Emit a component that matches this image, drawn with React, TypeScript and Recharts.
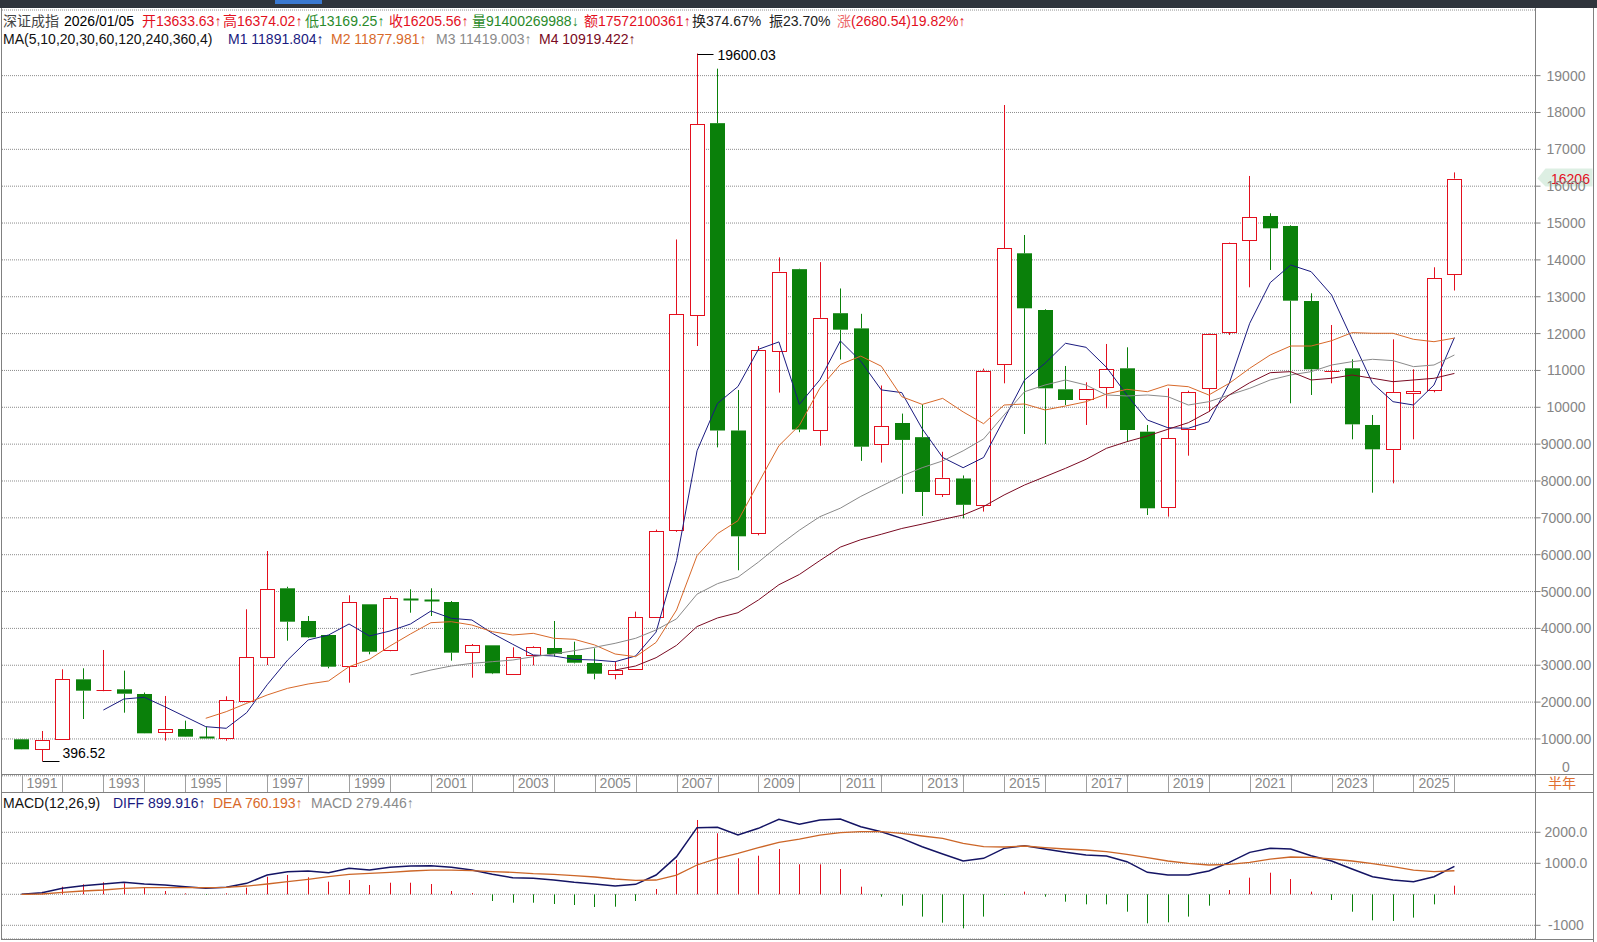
import React from 'react';
import { ComposedChart, Bar, Line, XAxis, YAxis, CartesianGrid, ReferenceLine } from 'recharts';

const FONT = "'Liberation Sans', Arial, 'Noto Sans CJK SC', sans-serif";
const RED = '#e3101e';
const GREEN = '#0a800a';
const NAVY = '#1a1a80';
const ORANGE = '#d8692a';
const GRAY = '#8a8a8a';
const MAROON = '#7a0a22';

// 半年K线 1991H1 .. 2026H1
const halfYears = Array.from({ length: 71 }, (_, i) => `${1991 + Math.floor(i / 2)}H${(i % 2) + 1}`);

const open = [990, 719, 990, 2618, 2300, 2347, 2220, 1180, 1270, 1045, 1008, 2012, 3215, 5088, 4201, 3821, 2980, 4654, 3395, 4785, 4770, 4716, 3351, 3541, 2754, 3270, 3468, 3278, 3061, 2771, 2890, 4318, 6650, 12491, 17710, 9370, 6573, 11547, 13748, 9397, 12553, 12141, 8985, 9574, 9189, 7666, 8068, 7354, 11167, 14179, 12640, 10488, 10217, 10543, 11058, 9338, 7286, 9411, 10516, 12025, 14540, 15191, 14920, 12884, 10980, 11058, 9520, 8860, 10378, 10470, 13633.63];
const high = [995, 1216, 2890, 2917, 3414, 2853, 2260, 2166, 1496, 1333, 2157, 4518, 6100, 5130, 4336, 3821, 4898, 4654, 4879, 5061, 5088, 4743, 3576, 3541, 3487, 3514, 4201, 3639, 3460, 3097, 4455, 6680, 14554, 19600.03, 19189, 10469, 11663, 14068, 13760, 13940, 13224, 12537, 10592, 9829, 10079, 8792, 8150, 11050, 18203, 14675, 12660, 11121, 10678, 11718, 11628, 9520, 10516, 10450, 12000, 14470, 16277, 15264, 14940, 13093, 12233, 11302, 9791, 11845, 11031, 13799, 16374.02];
const low = [715, 396.52, 985, 1541, 2295, 1713, 1150, 953, 1055, 1005, 953, 2000, 3007, 3666, 3740, 2917, 2527, 3297, 3380, 4426, 4336, 3124, 2662, 2760, 2740, 2999, 3240, 3050, 2618, 2618, 2880, 4300, 6619, 11663, 8912, 5577, 6526, 10399, 9324, 8958, 11297, 8546, 8499, 7655, 7050, 7566, 6985, 7170, 10651, 9275, 9004, 10062, 9520, 9973, 9067, 7077, 7032, 8687, 9881, 11962, 13256, 13726, 10108, 10334, 10651, 9131, 7683, 7937, 9131, 10407, 13169.25];
const close = [719, 972, 2618, 2310, 2320, 2228, 1153, 1262, 1062, 1008, 2049, 3215, 5061, 4182, 3758, 2961, 4708, 3368, 4817, 4765, 4750, 3341, 3541, 2781, 3215, 3487, 3305, 3069, 2771, 2871, 4301, 6643, 12518, 17675, 9370, 6499, 11547, 13683, 9397, 12426, 12106, 8931, 9482, 9115, 7702, 8087, 7354, 10996, 14314, 12686, 10515, 10198, 10497, 11031, 9384, 7259, 9159, 10407, 11981, 14450, 15156, 14857, 12893, 11031, 10994, 9538, 8860, 10407, 10442, 13500, 16205.56];

// 均线 M1..M4
const m1 = [null, null, null, null, 1785, 2084, 2130, 1875, 1604, 1333, 1289, 1713, 2470, 3140, 3685, 3821, 4119, 3794, 3929, 4119, 4472, 4273, 4228, 3866, 3568, 3278, 3251, 3160, 3142, 3097, 3251, 3900, 5840, 8819, 10106, 10564, 11574, 11774, 10079, 10746, 11802, 11251, 10472, 10399, 9417, 8638, 8361, 8638, 9680, 10741, 11194, 11737, 11628, 11085, 10334, 9655, 9446, 9430, 9609, 10651, 12280, 13382, 13862, 13680, 13048, 11845, 10651, 10152, 10062, 10605, 11892];
const m2 = [null, null, null, null, null, null, null, null, null, 1560, 1740, 1967, 2193, 2374, 2491, 2573, 2961, 3160, 3522, 3848, 4155, 4182, 4092, 3910, 3821, 3866, 3731, 3704, 3550, 3305, 3232, 3620, 4500, 5976, 6573, 6922, 7948, 8958, 9509, 10518, 11161, 11389, 11115, 10288, 10079, 10242, 9875, 9555, 10062, 10090, 9927, 10035, 10152, 10361, 10488, 10423, 10605, 10559, 10334, 10651, 11058, 11419, 11663, 11663, 11807, 12025, 12008, 12008, 11845, 11780, 11878];
const m3 = [null, null, null, null, null, null, null, null, null, null, null, null, null, null, null, null, null, null, null, 2735, 2871, 2980, 3052, 3097, 3142, 3232, 3305, 3395, 3487, 3595, 3731, 3957, 4260, 4930, 5214, 5391, 5800, 6252, 6665, 7031, 7262, 7582, 7858, 8133, 8361, 8545, 8819, 9142, 9791, 10423, 10605, 10741, 10605, 10334, 10307, 10334, 10288, 10062, 10152, 10334, 10515, 10741, 10877, 10967, 11148, 11238, 11302, 11266, 11103, 11148, 11419];
const m4 = [null, null, null, null, null, null, null, null, null, null, null, null, null, null, null, null, null, null, null, null, null, null, null, null, null, null, null, null, null, 2871, 2980, 3205, 3540, 4050, 4283, 4425, 4771, 5185, 5463, 5840, 6206, 6407, 6554, 6711, 6830, 6958, 7077, 7308, 7620, 7891, 8117, 8344, 8588, 8887, 9067, 9221, 9403, 9582, 9881, 10334, 10668, 10939, 10967, 10741, 10787, 10877, 10787, 10695, 10741, 10787, 10919];

// MACD(12,26,9)
const diff = [0, 52, 192, 278, 332, 386, 332, 300, 246, 192, 224, 353, 622, 730, 751, 697, 837, 783, 869, 912, 923, 869, 783, 644, 536, 515, 461, 386, 332, 267, 321, 622, 1214, 2149, 2160, 1912, 2128, 2418, 2262, 2396, 2429, 2181, 2020, 1805, 1536, 1300, 1074, 1160, 1482, 1568, 1461, 1353, 1267, 1235, 1052, 708, 622, 622, 751, 1031, 1353, 1482, 1461, 1246, 1074, 816, 568, 461, 407, 568, 900];
const dea = [0, 9, 63, 106, 138, 192, 213, 213, 213, 213, 224, 267, 332, 407, 482, 568, 644, 676, 708, 751, 783, 783, 762, 730, 708, 665, 644, 600, 558, 493, 450, 461, 622, 945, 1160, 1321, 1504, 1676, 1783, 1912, 1988, 2020, 2020, 1966, 1880, 1805, 1644, 1536, 1525, 1558, 1504, 1461, 1429, 1375, 1289, 1181, 1074, 998, 945, 966, 1031, 1138, 1203, 1192, 1138, 1074, 988, 891, 783, 730, 760];
const hist = [0, 80, 245, 322, 387, 355, 213, 106, 30, -23, 32, 213, 568, 623, 548, 406, 461, 300, 374, 374, 332, 106, 40, -216, -271, -271, -313, -345, -410, -400, -216, 171, 1106, 2397, 1968, 1161, 1245, 1461, 968, 966, 816, 246, -77, -367, -720, -916, -1098, -720, -23, 85, -77, -238, -324, -324, -561, -937, -905, -720, -367, 138, 536, 697, 493, 85, -184, -561, -840, -860, -752, -324, 279];

const priceTicks = [0, 1000, 2000, 3000, 4000, 5000, 6000, 7000, 8000, 9000, 10000, 11000, 12000, 13000, 14000, 15000, 16000, 17000, 18000, 19000];
const macdTicks = [-1000, 0, 1000, 2000];
const yearTicks = halfYears.map((_, i) => i).filter((i) => i % 2 === 0);

const rows = halfYears.map((p, i) => ({
  i,
  period: p,
  open: open[i],
  high: high[i],
  low: low[i],
  close: close[i],
  range: [low[i], high[i]],
  m1: m1[i],
  m2: m2[i],
  m3: m3[i],
  m4: m4[i],
}));
const macdRows = halfYears.map((p, i) => ({ i, period: p, diff: diff[i], dea: dea[i], hist: hist[i] }));

const maxHigh = Math.max(...high);
const minLow = Math.min(...low);
const lastClose = close[close.length - 1];
const X_DOMAIN = [-0.953, 73.96];

function Candle(props: any) {
  const { x, y, width, height, payload } = props;
  if (x == null || !payload) return null;
  const cx = Math.round(x + width / 2) + 0.5;
  const top = Math.min(y, y + height);
  const h = Math.abs(height);
  const span = payload.high - payload.low;
  const py = (v: number) => (span > 0 ? top + ((payload.high - v) / span) * h : top);
  const up = payload.close >= payload.open;
  const color = up ? RED : GREEN;
  const bTop = py(Math.max(payload.open, payload.close));
  const bBot = py(Math.min(payload.open, payload.close));
  const yHi = py(payload.high);
  const yLo = py(payload.low);
  const flat = bBot - bTop < 1.5;
  return (
    <g>
      <line x1={cx} x2={cx} y1={yHi} y2={bTop} stroke={color} />
      <line x1={cx} x2={cx} y1={bBot} y2={yLo} stroke={color} />
      {flat ? (
        <line x1={cx - 7} x2={cx + 8} y1={Math.round(bTop) + 0.5} y2={Math.round(bTop) + 0.5} stroke={color} strokeWidth={up ? 1 : 2} />
      ) : up ? (
        <rect x={cx - 7} y={Math.round(bTop) + 0.5} width={14} height={Math.round(bBot - bTop)} fill="#fff" stroke={color} />
      ) : (
        <rect x={cx - 7.5} y={bTop} width={15} height={bBot - bTop} fill={color} />
      )}
      {payload.high === maxHigh ? (
        <g>
          <line x1={cx} x2={cx + 16} y1={Math.round(yHi) + 0.5} y2={Math.round(yHi) + 0.5} stroke="#000" />
          <text x={cx + 20} y={yHi + 6} fontSize={14} fill="#000" fontFamily={FONT}>{payload.high.toFixed(2)}</text>
        </g>
      ) : null}
      {payload.low === minLow ? (
        <g>
          <line x1={cx} x2={cx + 17} y1={Math.round(yLo) + 0.5} y2={Math.round(yLo) + 0.5} stroke="#000" />
          <text x={cx + 20} y={yLo - 3} fontSize={14} fill="#000" fontFamily={FONT}>{payload.low.toFixed(2)}</text>
        </g>
      ) : null}
    </g>
  );
}

function HistBar(props: any) {
  const { x, y, width, height, payload } = props;
  if (x == null || !payload || !payload.hist) return null;
  const cx = Math.round(x + width / 2) + 0.5;
  const y1 = Math.min(y, y + height);
  const y2 = Math.max(y, y + height);
  return <line x1={cx} x2={cx} y1={y1} y2={y2} stroke={payload.hist > 0 ? RED : GREEN} strokeWidth={1} />;
}

function YearTick(props: any) {
  const { x, y, payload } = props;
  const year = 1991 + payload.value / 2;
  const lx = Math.round(x) + 0.5;
  return (
    <g>
      <line x1={lx} x2={lx} y1={y - 1.5} y2={y + 16.5} stroke="#a0a0a0" />
      {(year - 1991) % 2 === 0 && year < 2026 ? (
        <text x={x + 20.5} y={y + 7.5} textAnchor="middle" dominantBaseline="central" fill="#8a8a8a" fontSize={14} fontFamily={FONT}>
          {year}
        </text>
      ) : null}
    </g>
  );
}

function PriceTick(props: any) {
  const { x, y, payload } = props;
  const v = payload.value;
  const label = v === 0 ? '0' : v >= 10000 ? String(v) : v.toFixed(2);
  return (
    <g>
      {v !== 0 ? <line x1={x} x2={x + 5} y1={y} y2={y} stroke="#808080" /> : null}
      <text x={x + 30.5} y={v === 0 ? y - 9 : y} textAnchor="middle" dominantBaseline="central" fill="#858585" fontSize={14} fontFamily={FONT}>
        {label}
      </text>
    </g>
  );
}

function MacdTick(props: any) {
  const { x, y, payload } = props;
  const v = payload.value;
  if (v === 0) return null;
  const label = v > 0 ? v.toFixed(1) : String(v);
  return (
    <g>
      <line x1={x} x2={x + 5} y1={y} y2={y} stroke="#808080" />
      <text x={x + 30.5} y={y} textAnchor="middle" dominantBaseline="central" fill="#858585" fontSize={14} fontFamily={FONT}>
        {label}
      </text>
    </g>
  );
}

// last-close tag on the price axis, drawn over the 16000 label as in the terminal
function PriceTag(props: any) {
  const vb = props.viewBox;
  if (!vb) return null;
  const x0 = vb.x + vb.width;
  const yc = vb.y;
  return (
    <g>
      <polygon
        points={`${x0 + 2},${yc} ${x0 + 10},${yc - 10} ${x0 + 57},${yc - 10} ${x0 + 57},${yc + 8} ${x0 + 10},${yc + 8}`}
        fill="#ddefe3"
      />
      <text x={x0 + 15.5} y={yc} dominantBaseline="central" fill={RED} fontSize={14} fontFamily={FONT}>
        {lastClose.toFixed(0)}
      </text>
    </g>
  );
}

const header1 = [
  { x: 3, text: '深证成指', color: '#444' },
  { x: 64, text: '2026/01/05', color: '#000' },
  { x: 142, text: '开13633.63↑', color: RED },
  { x: 223, text: '高16374.02↑', color: RED },
  { x: 305, text: '低13169.25↑', color: '#2a8a2a' },
  { x: 389, text: '收16205.56↑', color: RED },
  { x: 472, text: '量91400269988↓', color: '#2a8a2a' },
  { x: 584, text: '额17572100361↑', color: RED },
  { x: 692, text: '换374.67%', color: '#222' },
  { x: 769, text: '振23.70%', color: '#222' },
  { x: 837, text: '涨', color: '#ec6a6a' },
  { x: 851, text: '(2680.54)19.82%↑', color: RED },
];
const header2 = [
  { x: 3, text: 'MA(5,10,20,30,60,120,240,360,4)', color: '#111' },
  { x: 228, text: 'M1 11891.804↑', color: NAVY },
  { x: 331, text: 'M2 11877.981↑', color: ORANGE },
  { x: 436, text: 'M3 11419.003↑', color: GRAY },
  { x: 539, text: 'M4 10919.422↑', color: MAROON },
];
const macdTitle = [
  { x: 3, text: 'MACD(12,26,9)', color: '#111' },
  { x: 113, text: 'DIFF 899.916↑', color: NAVY },
  { x: 213, text: 'DEA 760.193↑', color: ORANGE },
  { x: 311, text: 'MACD 279.446↑', color: GRAY },
];

function TextRow({ items, cy }: { items: { x: number; text: string; color: string }[]; cy: number }) {
  return (
    <>
      {items.map((s) => (
        <div
          key={s.x + s.text}
          style={{ position: 'absolute', left: s.x, top: cy - 8, height: 16, lineHeight: '16px', fontSize: 14, color: s.color, whiteSpace: 'pre', fontFamily: FONT }}
        >
          {s.text}
        </div>
      ))}
    </>
  );
}

export default function App() {
  return (
    <div style={{ position: 'absolute', left: 0, top: 0, width: 1597, height: 942, background: '#fff', overflow: 'hidden', fontFamily: FONT }}>
      <div style={{ position: 'absolute', left: 0, top: 0 }}>
        <ComposedChart width={1597} height={794} data={rows} margin={{ top: 10, right: 0, bottom: 0, left: 2 }}>
          <CartesianGrid vertical={false} stroke="#8c8c8c" strokeDasharray="1 1" />
          <XAxis
            type="number"
            dataKey="i"
            domain={X_DOMAIN}
            allowDataOverflow
            ticks={yearTicks}
            interval={0}
            height={18.2}
            axisLine={false}
            tickLine={false}
            tickSize={0}
            tickMargin={0}
            tick={(p: any) => <YearTick {...p} />}
          />
          <YAxis
            orientation="right"
            width={61.5}
            domain={[0, 20781]}
            allowDataOverflow
            ticks={priceTicks}
            interval={0}
            axisLine={{ stroke: '#808080' }}
            tickLine={false}
            tickSize={0}
            tickMargin={0}
            tick={(p: any) => <PriceTick {...p} />}
          />
          <Bar dataKey="range" barSize={14} shape={(p: any) => <Candle {...p} />} isAnimationActive={false} />
          <Line type="linear" dataKey="m1" stroke={NAVY} strokeWidth={1} dot={false} isAnimationActive={false} />
          <Line type="linear" dataKey="m2" stroke={ORANGE} strokeWidth={1} dot={false} isAnimationActive={false} />
          <Line type="linear" dataKey="m3" stroke={GRAY} strokeWidth={1} dot={false} isAnimationActive={false} />
          <Line type="linear" dataKey="m4" stroke={MAROON} strokeWidth={1} dot={false} isAnimationActive={false} />
          <ReferenceLine y={lastClose} stroke="none" label={(p: any) => <PriceTag {...p} />} />
        </ComposedChart>
      </div>
      <div style={{ position: 'absolute', left: 0, top: 792 }}>
        <ComposedChart width={1597} height={147} data={macdRows} margin={{ top: 0, right: 0, bottom: 0, left: 2 }}>
          <CartesianGrid vertical={false} stroke="#8c8c8c" strokeDasharray="1 1" />
          <XAxis type="number" dataKey="i" domain={X_DOMAIN} allowDataOverflow hide />
          <YAxis
            orientation="right"
            width={61.5}
            domain={[-1442, 3300]}
            allowDataOverflow
            ticks={macdTicks}
            interval={0}
            axisLine={{ stroke: '#808080' }}
            tickLine={false}
            tickSize={0}
            tickMargin={0}
            tick={(p: any) => <MacdTick {...p} />}
          />
          <Bar dataKey="hist" barSize={2} shape={(p: any) => <HistBar {...p} />} isAnimationActive={false} />
          <Line type="linear" dataKey="diff" stroke="#141464" strokeWidth={1.5} dot={false} isAnimationActive={false} />
          <Line type="linear" dataKey="dea" stroke="#cc6628" strokeWidth={1.3} dot={false} isAnimationActive={false} />
        </ComposedChart>
      </div>
      <svg width={1597} height={942} style={{ position: 'absolute', left: 0, top: 0, pointerEvents: 'none' }}>
        <rect x={0} y={0} width={1597} height={8} fill="#2f343c" />
        <rect x={275} y={0} width={47} height={4} fill="#3a78d0" />
        <line x1={1.5} x2={1.5} y1={8} y2={940} stroke="#808080" />
        <line x1={1.5} x2={1594} y1={774.5} y2={774.5} stroke="#808080" />
        <line x1={1.5} x2={1594} y1={792.5} y2={792.5} stroke="#808080" />
        <line x1={1.5} x2={1594} y1={939.5} y2={939.5} stroke="#808080" />
        <line x1={1535.5} x2={1535.5} y1={8} y2={940} stroke="#808080" />
        <line x1={1593.5} x2={1593.5} y1={8} y2={942} stroke="#808080" />
        <text x={1562} y={783} textAnchor="middle" dominantBaseline="central" fill="#e07030" fontSize={14} fontFamily={FONT}>
          半年
        </text>
      </svg>
      <TextRow items={header1} cy={20.5} />
      <TextRow items={header2} cy={39} />
      <TextRow items={macdTitle} cy={802.5} />
    </div>
  );
}
